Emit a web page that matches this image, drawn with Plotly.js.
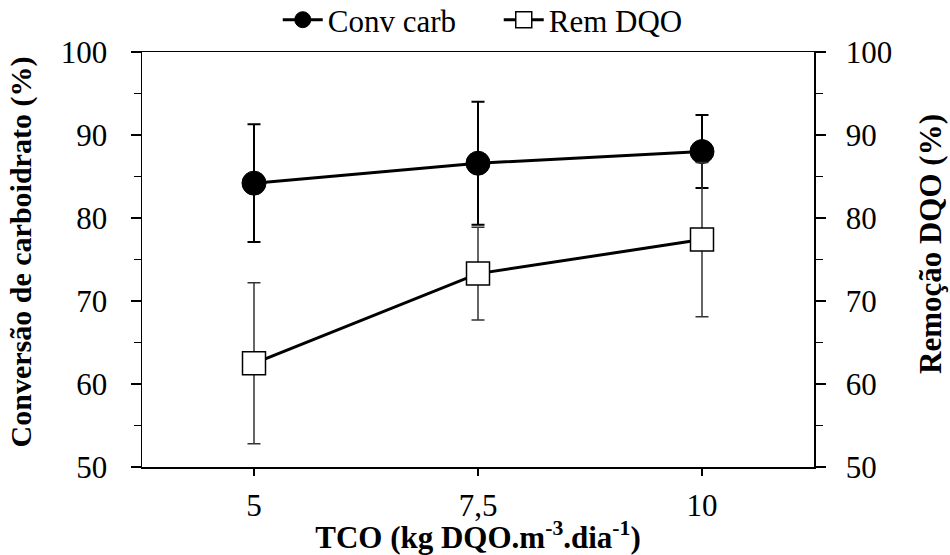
<!DOCTYPE html>
<html>
<head>
<meta charset="utf-8">
<script src="https://cdn.plot.ly/plotly-3.0.1.min.js"></script>
<style>html,body{margin:0;padding:0;background:#fff;}#chart{width:950px;height:555px;}</style>
</head>
<body>
<div id="chart"></div>
<script>
// Data
var tco = [5, 7.5, 10];
var tickLabels = ["5", "7,5", "10"];
var convCarb = [84.2, 86.6, 88.0];
var convCarbErr = [7.1, 7.4, 4.4];
var remDQO = [62.5, 73.3, 77.4];
var remDQOErr = [9.7, 5.6, 9.3];
var seriesNames = ["Conv carb", "Rem DQO"];

var FONT = "'Liberation Serif', 'DejaVu Serif', serif";
var NB = "\u00a0";

var traces = [
  {
    x: tco, y: convCarb, name: seriesNames[0], type: "scatter", mode: "lines+markers",
    line: {color: "#000", width: 3},
    marker: {symbol: "circle", size: 24, color: "#000", line: {color: "#000", width: 1}},
    error_y: {type: "data", array: convCarbErr, visible: true, color: "#000", thickness: 2, width: 6.5},
    yaxis: "y"
  },
  {
    x: tco, y: remDQO, name: seriesNames[1], type: "scatter", mode: "lines+markers",
    line: {color: "#000", width: 3},
    marker: {symbol: "square", size: 23, color: "#fff", line: {color: "#000", width: 1.5}},
    error_y: {type: "data", array: remDQOErr, visible: true, color: "#333", thickness: 1.5, width: 6.5},
    yaxis: "y2"
  }
];

var yCommon = {
  range: [50, 100], dtick: 10, tick0: 50,
  showgrid: false, zeroline: false,
  showline: true, linecolor: "#000", linewidth: 1.5,
  ticks: "outside", ticklen: 10, tickwidth: 1.5, tickcolor: "#000",
  minor: {dtick: 5, ticks: "outside", ticklen: 7, tickwidth: 1.5, tickcolor: "#000", showgrid: false},
  tickfont: {family: FONT, size: 31, color: "#000"}
};

var layout = {
  width: 950, height: 555,
  margin: {l: 142, r: 136, t: 52, b: 88, pad: 0, autoexpand: false},
  paper_bgcolor: "#fff", plot_bgcolor: "#fff",
  font: {family: FONT, color: "#000"},
  showlegend: true,
  legend: {
    orientation: "h", x: 0.202, xanchor: "left", y: 1.077, yanchor: "middle",
    font: {family: FONT, size: 31, color: "#000"},
    itemwidth: 40, entrywidth: 166, traceorder: "normal", bgcolor: "rgba(0,0,0,0)",
    borderwidth: 0, tracegroupgap: 0
  },
  xaxis: {
    range: [3.75, 11.25],
    tickmode: "array", tickvals: tco, ticktext: tickLabels,
    showgrid: false, zeroline: false,
    showline: true, mirror: true, linecolor: "#000", linewidth: 1.5,
    ticks: "outside", ticklen: 7, tickwidth: 1.5, tickcolor: "#000",
    tickfont: {family: FONT, size: 31, color: "#000"},
    ticklabelstandoff: 3,
    title: {text: "<b>TCO (kg DQO.m<sup>-3</sup>.dia<sup>-1</sup>)</b>", font: {family: FONT, size: 31, color: "#000"}, standoff: 0}
  },
  yaxis: Object.assign({}, yCommon, {
    side: "left", ticklabelstandoff: 17,
    title: {text: "<b>" + NB + NB + "Conversão de carboidrato (%)</b>", font: {family: FONT, size: 30, color: "#000"}, standoff: 20}
  }),
  yaxis2: Object.assign({}, yCommon, {
    side: "right", overlaying: "y", ticklabelstandoff: 14,
    title: {text: "<b>" + NB + NB + NB + NB + "Remoção DQO (%)</b>", font: {family: FONT, size: 31, color: "#000"}, standoff: 28}
  })
};

Plotly.newPlot("chart", traces, layout, {displayModeBar: false, staticPlot: true});
</script>
</body>
</html>
